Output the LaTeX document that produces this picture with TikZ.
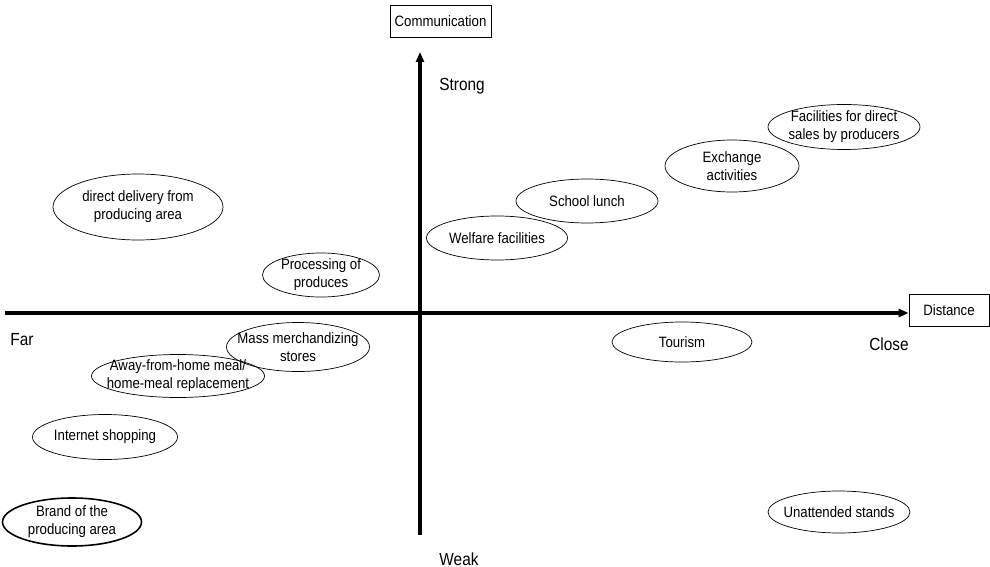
\documentclass[tikz,border=0pt]{standalone}
\usepackage{fontspec}
\setmainfont{Liberation Sans}[FakeStretch=0.88]
\usetikzlibrary{shapes.geometric,arrows.meta}
\begin{document}
\begin{tikzpicture}[x=1pt,y=-1pt,
  every node/.style={font=\fontsize{15}{18}\selectfont, inner sep=0pt},
  oval/.style={draw, ellipse, line width=0.7pt},
  lbl/.style={align=center},
  axlbl/.style={font=\fontsize{17.5}{20}\selectfont},
  axis/.style={line width=3.4pt, -{Triangle[length=10pt,width=8pt]}},
  tbox/.style={draw, line width=0.8pt, rectangle}]
\useasboundingbox (0,0) rectangle (990,567);
% boxes
\node[tbox, minimum width=101pt, minimum height=32pt] (comm) at (440.5,21) {Communication};
\node[tbox, minimum width=80pt, minimum height=32pt] (dist) at (949,310) {Distance};
% axes
\coordinate (vbot) at (420,535);
\coordinate (vtop) at (420,52);
\coordinate (hleft) at (5,313);
\draw[axis] (vbot) -- (vtop);
\draw[axis] (hleft) -- (hleft -| dist.west);
% axis labels
\node[axlbl] (far) at (22,340) {Far};
\node[axlbl] (close) at (889,344) {Close};
\node[axlbl] (strong) at (462,86) {Strong};
\node[axlbl] (weak) at (459,559) {Weak};
% ellipses
\node[oval, minimum width=170pt, minimum height=66pt] (e1) at (138,207) {};
\node[lbl] (t1) at (e1) {direct delivery from\\producing area};
\node[oval, minimum width=117pt, minimum height=44pt] (e2) at (321,275) {};
\node[lbl] (t2) at (e2) {Processing of\\produces};
\node[oval, minimum width=141pt, minimum height=44pt] (e3) at (497,238) {};
\node[lbl] (t3) at (e3) {Welfare facilities};
\node[oval, minimum width=142pt, minimum height=44pt] (e4) at (587,201) {};
\node[lbl] (t4) at (e4) {School lunch};
\node[oval, minimum width=134pt, minimum height=52pt] (e5) at (732,166) {};
\node[lbl] (t5) at (e5) {Exchange\\activities};
\node[oval, minimum width=152pt, minimum height=45pt] (e6) at (844,127) {};
\node[lbl] (t6) at (e6) {Facilities for direct\\sales by producers};
\node[oval, minimum width=140pt, minimum height=40pt] (e7) at (682,342) {};
\node[lbl] (t7) at (e7) {Tourism};
\node[oval, minimum width=142pt, minimum height=42pt] (e8) at (839,512) {};
\node[lbl] (t8) at (e8) {Unattended stands};
\node[oval, minimum width=143pt, minimum height=49pt] (e9) at (298,347) {};
\node[lbl] (t9) at (e9) {Mass merchandizing\\stores};
\node[oval, minimum width=173pt, minimum height=43pt] (e10) at (178,376) {};
\node[lbl] (t10) at (e10) {Away-from-home meal/\\home-meal replacement};
\node[oval, minimum width=145pt, minimum height=45pt] (e11) at (105,437) {};
\node[lbl] (t11) at (e11) {Internet shopping};
\node[oval, line width=1.6pt, minimum width=139pt, minimum height=48pt] (e12) at (72,522) {};
\node[lbl] (t12) at (e12) {Brand of the\\producing area};
\end{tikzpicture}
\end{document}
